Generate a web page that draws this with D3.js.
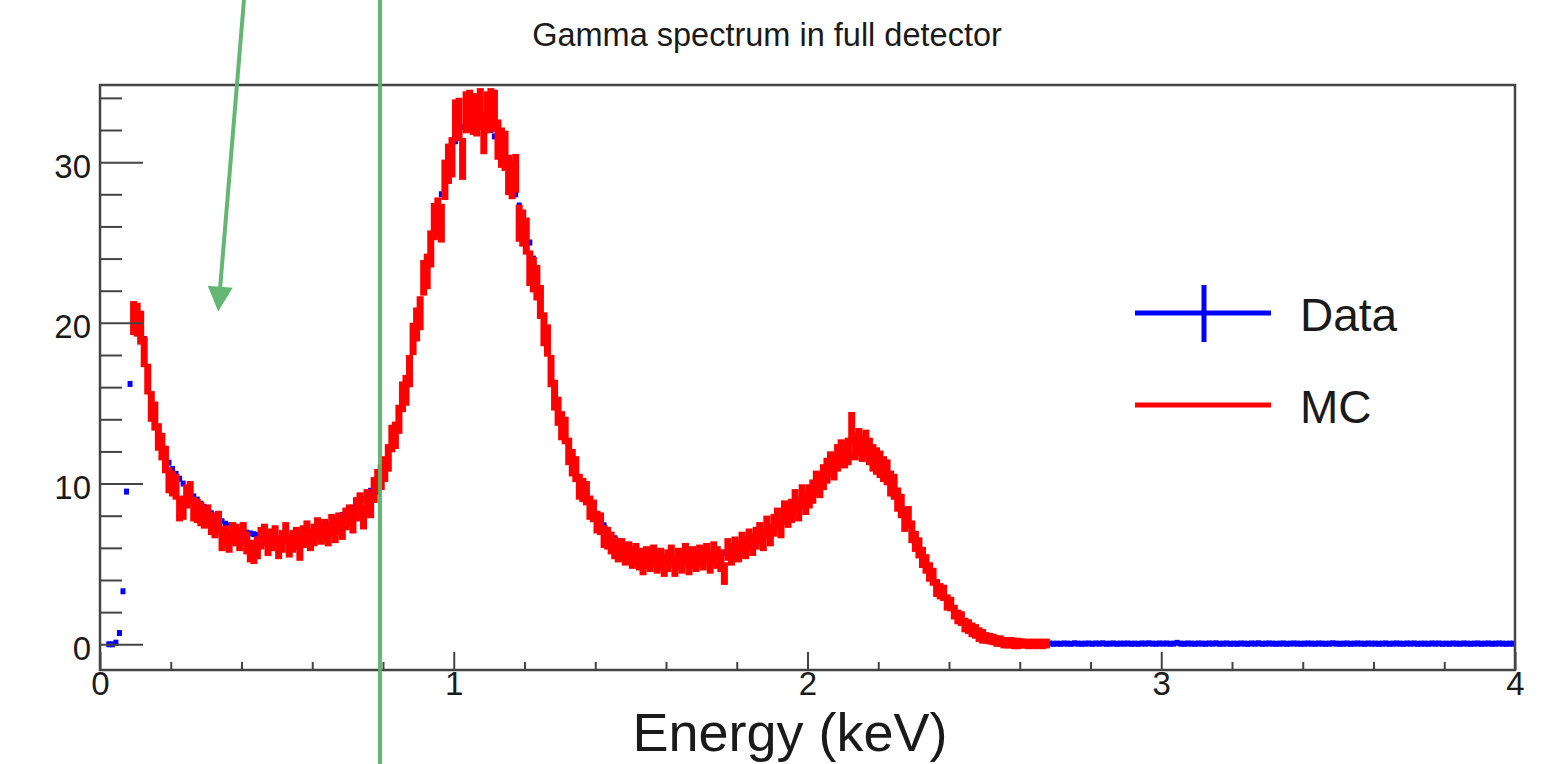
<!DOCTYPE html>
<html>
<head>
<meta charset="utf-8">
<script src="https://cdn.jsdelivr.net/npm/d3@7"></script>
<style>
  html, body { margin: 0; padding: 0; background: #fff; }
  svg { display: block; }
  text { font-family: "Liberation Sans", Arial, Helvetica, sans-serif; fill: #1a1a1a; }
</style>
</head>
<body>
<svg id="chart" width="1553" height="764"></svg>
<script>
// Histogram binning (keV)
const binWidth = 0.01;
const energyRange = [0, 4];
const countRange = [-1.6, 34.8];

// Measured gamma spectrum, one entry per 0.01 keV bin starting at 0 keV
const dataCounts = [
  null, null, 0, 0, 0.1, 0.7, 3.3, 9.5, 16.2, 19.6,
  20.1, 19.8, 19.0, 16.6, 15.2, 14.1, 13.2, 12.5, 11.9, 11.3,
  10.9, 10.6, 10.3, 10.0, 9.7, 9.45, 9.2, 9.0, 8.75, 8.55,
  8.35, 8.15, 8.0, 7.8, 7.65, 7.5, 7.4, 7.3, 7.2, 7.1,
  7.0, 6.95, 6.9, 6.85, 6.8, 6.75, 6.7, 6.7, 6.65, 6.6,
  6.6, 6.6, 6.6, 6.62, 6.65, 6.68, 6.7, 6.75, 6.8, 6.85,
  6.9, 7.0, 7.15, 7.3, 7.45, 7.6, 7.75, 7.9, 8.05, 8.2,
  8.35, 8.5, 8.65, 8.85, 9.05, 9.3, 9.55, 9.85, 10.15, 10.5,
  11.2, 11.8, 12.5, 13.3, 14.2, 15.1, 16.1, 17.2, 18.4, 19.6,
  20.9, 22.2, 23.5, 24.8, 26.0, 27.0, 28.0, 28.9, 29.8, 30.6,
  31.3, 31.8, 32.2, 32.5, 32.7, 32.8, 32.8, 32.7, 32.5, 32.3,
  32.0, 31.6, 31.1, 30.6, 30.0, 29.4, 28.7, 28.0, 27.3, 26.6,
  25.9, 25.0, 24.0, 22.9, 21.7, 20.3, 18.7, 17.1, 15.8, 14.7,
  13.9, 13.1, 12.4, 11.7, 11.0, 10.4, 9.9, 9.4, 8.9, 8.5,
  8.1, 7.7, 7.4, 7.1, 6.8, 6.6, 6.4, 6.2, 6.05, 5.95,
  5.85, 5.75, 5.7, 5.65, 5.6, 5.55, 5.5, 5.45, 5.4, 5.4,
  5.35, 5.35, 5.3, 5.3, 5.3, 5.3, 5.3, 5.3, 5.35, 5.35,
  5.4, 5.45, 5.5, 5.55, 5.6, 5.65, 5.7, 5.8, 5.85, 5.95,
  6.0, 6.1, 6.2, 6.3, 6.4, 6.5, 6.6, 6.75, 6.9, 7.05,
  7.2, 7.35, 7.5, 7.7, 7.9, 8.1, 8.3, 8.5, 8.7, 8.9,
  9.15, 9.4, 9.65, 9.9, 10.15, 10.4, 10.65, 10.85, 11.05, 11.25,
  11.45, 11.6, 11.75, 11.85, 11.95, 12.0, 12.0, 11.95, 11.85, 11.7,
  11.45, 11.15, 10.8, 10.4, 9.95, 9.45, 8.9, 8.35, 7.8, 7.25,
  6.7, 6.15, 5.65, 5.15, 4.7, 4.25, 3.85, 3.45, 3.1, 2.75,
  2.45, 2.15, 1.85, 1.6, 1.35, 1.15, 1.0, 0.85, 0.75, 0.62,
  0.52, 0.43, 0.35, 0.28, 0.22, 0.17, 0.13, 0.1, 0.08, 0.07,
  0.06, 0.05, 0.05, 0.04, 0.05, 0.04, 0.03, 0.04, 0.05, 0.03,
  0.04, 0.03, 0.05, 0.04, 0.03, 0.06, 0.04, 0.03, 0.04, 0.05,
  0.03, 0.05, 0.04, 0.06, 0.03, 0.04, 0.05, 0.03, 0.04, 0.04,
  0.05, 0.03, 0.04, 0.03, 0.05, 0.04, 0.06, 0.04, 0.03, 0.05,
  0.04, 0.05, 0.03, 0.04, 0.09, 0.04, 0.03, 0.05, 0.04, 0.03,
  0.05, 0.04, 0.03, 0.05, 0.04, 0.06, 0.03, 0.04, 0.05, 0.03,
  0.04, 0.03, 0.05, 0.04, 0.03, 0.05, 0.04, 0.06, 0.03, 0.04,
  0.05, 0.04, 0.03, 0.04, 0.05, 0.03, 0.04, 0.05, 0.04, 0.03,
  0.04, 0.05, 0.04, 0.03, 0.05, 0.04, 0.03, 0.04, 0.06, 0.04,
  0.03, 0.04, 0.05, 0.03, 0.04, 0.05, 0.04, 0.03, 0.05, 0.04,
  0.04, 0.03, 0.04, 0.05, 0.03, 0.04, 0.05, 0.04, 0.03, 0.05,
  0.04, 0.05, 0.03, 0.04, 0.04, 0.03, 0.05, 0.04, 0.05, 0.03,
  0.04, 0.03, 0.05, 0.04, 0.03, 0.05, 0.04, 0.03, 0.04, 0.05,
  0.03, 0.04, 0.05, 0.03, 0.04, 0.05, 0.04, 0.03, 0.04, 0.04
];

// Simulated spectrum (MC), same binning, first bin starts at 0.09 keV
const mcStartEnergy = 0.09;
const mcCounts = [
  20.3,
  20.2, 19.7, 18.2, 16.5, 14.8, 14.2, 12.9, 12.3, 11.5, 10.2,
  10.0, 9.8, 8.4, 8.5, 9.2, 9.4, 8.4, 8.3, 8.1, 7.9,
  8.0, 7.5, 7.3, 7.6, 6.5, 6.7, 6.4, 6.9, 6.8, 6.5,
  6.9, 6.3, 5.8, 5.7, 6.0, 6.6, 6.8, 6.2, 6.5, 6.7,
  6.0, 6.4, 6.9, 6.1, 6.4, 6.6, 5.9, 6.7, 7.0, 6.5,
  6.8, 7.2, 6.9, 7.1, 6.8, 7.4, 7.0, 7.5, 7.2, 7.8,
  8.0, 7.6, 8.4, 8.7, 7.9, 8.9, 8.6, 9.6, 10.1, 10.4,
  10.9, 11.6, 12.8, 13.0, 14.0, 15.4, 15.8, 17.0, 19.0, 19.9,
  20.6, 22.8, 23.2, 24.6, 26.3, 26.6, 26.2, 28.9, 29.9, 30.3,
  32.6, 32.7, 30.2, 33.1, 33.2, 33.0, 32.9, 33.3, 31.8, 33.1,
  33.3, 33.2, 31.4, 30.9, 30.7, 29.2, 28.9, 29.3, 26.2, 25.9,
  25.4, 23.4, 23.0, 22.5, 21.3, 19.6, 18.9, 17.0, 15.5, 14.5,
  13.6, 13.3, 12.0, 11.3, 10.9, 9.8, 9.6, 9.4, 8.5, 8.3,
  7.6, 7.5, 6.7, 6.6, 6.3, 6.0, 5.8, 5.9, 5.6, 5.7,
  5.4, 5.6, 5.3, 5.0, 5.4, 5.2, 5.5, 5.1, 5.3, 4.9,
  5.2, 5.5, 4.9, 5.3, 5.1, 5.6, 5.0, 5.4, 5.2, 5.5,
  5.3, 5.6, 5.1, 5.7, 5.4, 5.2, 4.4, 5.9, 5.6, 6.0,
  5.8, 6.3, 6.0, 6.5, 6.2, 6.6, 6.9, 6.5, 7.3, 6.8,
  7.4, 7.8, 7.3, 8.2, 8.0, 8.3, 8.9, 8.4, 9.2, 8.8,
  9.2, 9.5, 10.0, 9.9, 10.4, 10.8, 11.2, 11.0, 11.6, 11.9,
  11.8, 12.0, 13.4, 12.3, 12.6, 12.2, 12.5, 12.0, 11.6, 11.4,
  11.2, 10.9, 10.7, 10.0, 9.8, 9.0, 8.6, 7.7, 7.9, 7.0,
  6.4, 6.0, 5.4, 5.0, 4.5, 4.2, 3.5, 3.3, 3.2, 2.6,
  2.5, 2.0, 1.7, 1.6, 1.2, 1.1, 0.9, 0.8, 0.6, 0.5,
  0.4, 0.35, 0.3, 0.2, 0.2, 0.1, 0.1, 0.1, 0.05, 0.05,
  0.05, 0.05, 0.0, 0.05, 0.0, 0.05, 0.0, 0.05
];

// Statistical uncertainty of each MC bin
const mcErrors = [
  0.9,
  0.9, 0.9, 0.8, 0.8, 0.8, 0.75, 0.7, 0.7, 0.7, 0.65,
  0.65, 0.65, 0.6, 0.6, 0.6, 0.6, 0.6, 0.6, 0.6, 0.55,
  0.55, 0.55, 0.55, 0.55, 0.55, 0.55, 0.55, 0.55, 0.55, 0.55,
  0.55, 0.55, 0.55, 0.55, 0.55, 0.55, 0.55, 0.55, 0.55, 0.55,
  0.55, 0.55, 0.55, 0.55, 0.55, 0.55, 0.55, 0.55, 0.55, 0.55,
  0.55, 0.55, 0.55, 0.55, 0.55, 0.55, 0.55, 0.55, 0.55, 0.55,
  0.55, 0.55, 0.6, 0.6, 0.6, 0.6, 0.6, 0.65, 0.65, 0.65,
  0.65, 0.7, 0.7, 0.7, 0.75, 0.8, 0.8, 0.85, 0.85, 0.9,
  0.9, 0.95, 0.95, 1.0, 1.0, 1.05, 1.05, 1.1, 1.1, 1.1,
  1.15, 1.15, 1.15, 1.15, 1.15, 1.15, 1.15, 1.15, 1.15, 1.15,
  1.15, 1.15, 1.1, 1.1, 1.1, 1.1, 1.05, 1.05, 1.0, 1.0,
  1.0, 0.95, 0.95, 0.95, 0.9, 0.9, 0.85, 0.85, 0.8, 0.75,
  0.75, 0.7, 0.7, 0.7, 0.65, 0.65, 0.6, 0.6, 0.6, 0.55,
  0.55, 0.55, 0.55, 0.55, 0.55, 0.55, 0.55, 0.55, 0.55, 0.55,
  0.55, 0.55, 0.55, 0.55, 0.55, 0.55, 0.55, 0.55, 0.55, 0.55,
  0.55, 0.55, 0.55, 0.55, 0.55, 0.55, 0.55, 0.55, 0.55, 0.55,
  0.55, 0.55, 0.55, 0.55, 0.55, 0.55, 0.55, 0.55, 0.55, 0.55,
  0.55, 0.55, 0.55, 0.55, 0.55, 0.55, 0.55, 0.55, 0.55, 0.55,
  0.55, 0.55, 0.55, 0.6, 0.6, 0.6, 0.6, 0.6, 0.6, 0.6,
  0.6, 0.6, 0.65, 0.65, 0.65, 0.65, 0.65, 0.65, 0.7, 0.7,
  0.7, 0.7, 0.9, 0.7, 0.7, 0.7, 0.7, 0.7, 0.7, 0.7,
  0.7, 0.65, 0.65, 0.65, 0.65, 0.6, 0.6, 0.55, 0.55, 0.55,
  0.5, 0.5, 0.5, 0.45, 0.45, 0.4, 0.4, 0.35, 0.35, 0.35,
  0.3, 0.3, 0.3, 0.3, 0.3, 0.3, 0.3, 0.3, 0.3, 0.3,
  0.2, 0.2, 0.2, 0.2, 0.2, 0.2, 0.2, 0.2, 0.2, 0.2,
  0.15, 0.15, 0.15, 0.15, 0.15, 0.15, 0.15, 0.15
];

// Axis ticks
const xMajorTicks = [0, 1, 2, 3, 4];
const xMinorTicks = [0.2, 0.4, 0.6, 0.8, 1.2, 1.4, 1.6, 1.8, 2.2, 2.4, 2.6, 2.8, 3.2, 3.4, 3.6, 3.8];
const yMajorTicks = [0, 10, 20, 30];
const yMinorTicks = [2, 4, 6, 8, 12, 14, 16, 18, 22, 24, 26, 28, 32, 34];

const titleText = "Gamma spectrum in full detector";
const xTitleText = "Energy (keV)";
const legendLabels = ["Data", "MC"];

// Hand-drawn annotation: cut line and arrow, in data units
const cutEnergy = 0.7915;
const arrowFrom = { energy: 0.407, counts: 40.1 };
const arrowTo = { energy: 0.334, counts: 20.7 };

const svg = d3.select("#chart");
const W = 1553, H = 764;
const frame = { left: 100, right: 1515, top: 85, bottom: 670 };
const fontFamily = "'Liberation Sans', Arial, Helvetica, sans-serif";

svg.append("rect").attr("width", W).attr("height", H).attr("fill", "#fff");

const x = d3.scaleLinear().domain(energyRange).range([frame.left, frame.right]);
const y = d3.scaleLinear().domain(countRange).range([frame.bottom, frame.top]);

// Title
svg.append("text")
  .attr("x", 767).attr("y", 46)
  .attr("text-anchor", "middle")
  .attr("font-size", 32.5)
  .text(titleText);

// Data points
const dataPts = dataCounts
  .map((v, i) => ({ e: energyRange[0] + (i + 0.5) * binWidth, v }))
  .filter(d => d.v !== null);

const plot = svg.append("g");

plot.append("g").selectAll("rect")
  .data(dataPts)
  .join("rect")
  .attr("x", d => x(d.e) - 2.5)
  .attr("y", d => y(d.v) - 3)
  .attr("width", 5)
  .attr("height", 6)
  .attr("fill", "#0000ff");

// MC with error bars drawn as thick red bars
const mcPts = mcCounts.map((v, i) => ({
  e: mcStartEnergy + (i + 0.5) * binWidth,
  v,
  err: mcErrors[i]
}));

plot.append("g").selectAll("rect")
  .data(mcPts)
  .join("rect")
  .attr("x", d => x(d.e) - 3.5)
  .attr("y", d => y(d.v + d.err) - 2.5)
  .attr("width", 7)
  .attr("height", d => y(d.v - d.err) - y(d.v + d.err) + 5)
  .attr("fill", "#ff0000");

// Axes (ticks pointing into the frame)
const axisColor = "#444";
const xAxisMajor = d3.axisBottom(x).tickValues(xMajorTicks).tickSize(-18).tickPadding(2)
  .tickFormat(d3.format("d"));
const xAxisMinor = d3.axisBottom(x).tickValues(xMinorTicks).tickSize(-8).tickFormat("");
const yAxisMajor = d3.axisLeft(y).tickValues(yMajorTicks).tickSize(-43).tickPadding(9)
  .tickFormat(d3.format("d"));
const yAxisMinor = d3.axisLeft(y).tickValues(yMinorTicks).tickSize(-22).tickFormat("");

function styleAxis(g) {
  g.select(".domain").remove();
  g.selectAll(".tick line").attr("stroke", axisColor).attr("stroke-width", 2);
  g.selectAll(".tick text").attr("font-size", 33)
    .attr("font-family", fontFamily)
    .attr("fill", "#1a1a1a");
}

svg.append("g").attr("transform", `translate(0,${frame.bottom})`).call(xAxisMinor).call(styleAxis);
svg.append("g").attr("transform", `translate(0,${frame.bottom})`).call(xAxisMajor).call(styleAxis);
svg.append("g").attr("transform", `translate(${frame.left},0)`).call(yAxisMinor).call(styleAxis);
const yg = svg.append("g").attr("transform", `translate(${frame.left},0)`).call(yAxisMajor).call(styleAxis);
yg.selectAll(".tick text").attr("dy", "0.45em");

// Frame
svg.append("rect")
  .attr("x", frame.left).attr("y", frame.top)
  .attr("width", frame.right - frame.left).attr("height", frame.bottom - frame.top)
  .attr("fill", "none").attr("stroke", axisColor).attr("stroke-width", 2.5);

// X axis title
svg.append("text")
  .attr("x", 790).attr("y", 751)
  .attr("text-anchor", "middle")
  .attr("font-size", 54)
  .text(xTitleText);

// Legend
const legend = svg.append("g");
legend.append("line").attr("x1", 1135).attr("x2", 1271).attr("y1", 313).attr("y2", 313)
  .attr("stroke", "#0000ff").attr("stroke-width", 5);
legend.append("line").attr("x1", 1204).attr("x2", 1204).attr("y1", 285).attr("y2", 342)
  .attr("stroke", "#0000ff").attr("stroke-width", 5);
legend.append("line").attr("x1", 1135).attr("x2", 1271).attr("y1", 405).attr("y2", 405)
  .attr("stroke", "#ff0000").attr("stroke-width", 5);
legend.append("text").attr("x", 1300).attr("y", 331).attr("font-size", 46).text(legendLabels[0]);
legend.append("text").attr("x", 1300).attr("y", 423).attr("font-size", 46).text(legendLabels[1]);

// Annotation overlay
const green = "#5cb46c";
const ann = svg.append("g").attr("opacity", 0.95);
ann.append("line")
  .attr("x1", x(cutEnergy)).attr("x2", x(cutEnergy))
  .attr("y1", 0).attr("y2", H)
  .attr("stroke", green).attr("stroke-width", 4);

const p0 = [x(arrowFrom.energy), y(arrowFrom.counts)];
const p1 = [x(arrowTo.energy), y(arrowTo.counts)];
const len = Math.hypot(p1[0] - p0[0], p1[1] - p0[1]);
const ux = (p1[0] - p0[0]) / len, uy = (p1[1] - p0[1]) / len;
const headLen = 25, headHalf = 12.5;
const base = [p1[0] - ux * headLen, p1[1] - uy * headLen];
ann.append("line")
  .attr("x1", p0[0]).attr("y1", p0[1])
  .attr("x2", base[0] + ux * 2).attr("y2", base[1] + uy * 2)
  .attr("stroke", green).attr("stroke-width", 4);
ann.append("polygon")
  .attr("points", [
    p1,
    [base[0] - uy * headHalf, base[1] + ux * headHalf],
    [base[0] + uy * headHalf, base[1] - ux * headHalf]
  ].map(p => p.join(",")).join(" "))
  .attr("fill", green);
</script>
</body>
</html>
